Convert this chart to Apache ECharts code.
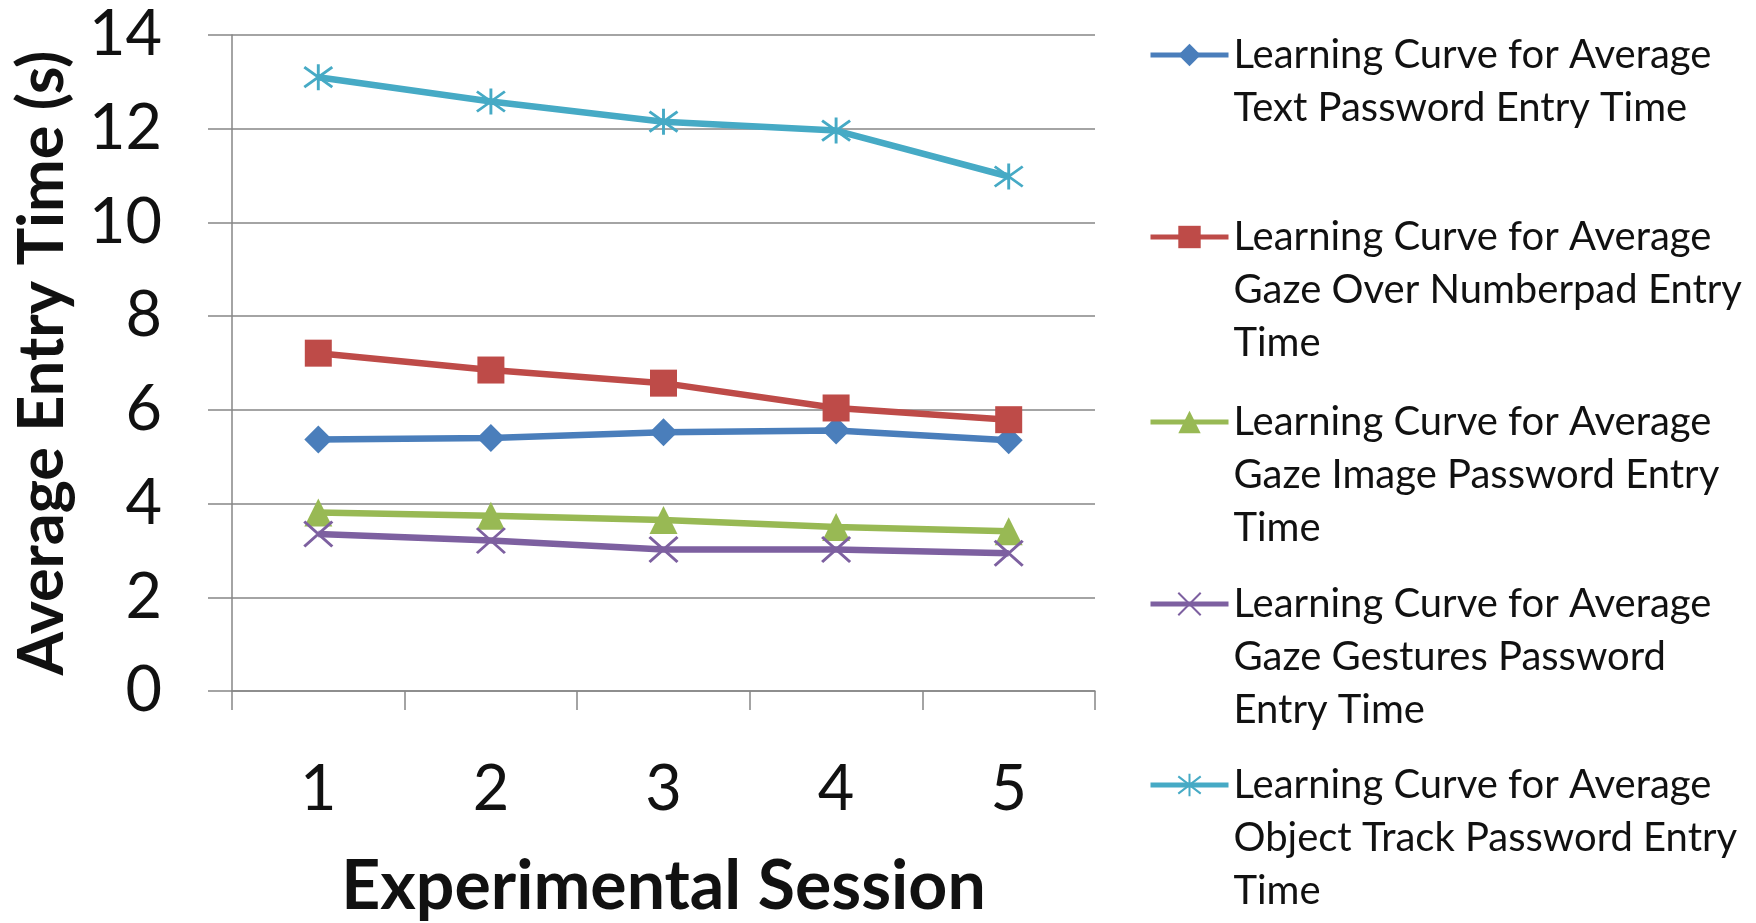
<!DOCTYPE html>
<html><head><meta charset="utf-8">
<script src="https://cdn.jsdelivr.net/npm/echarts@6/dist/echarts.min.js"></script>
<style>html,body{margin:0;padding:0;background:#fff}#c{width:1756px;height:923px}</style>
</head><body><div id="c"></div>
<script>
// ---- data ----
const sessions = ['1', '2', '3', '4', '5'];
const textPassword = [5.37, 5.40, 5.52, 5.56, 5.35];
const gazeNumberpad = [7.21, 6.85, 6.57, 6.04, 5.79];
const gazeImage = [3.81, 3.74, 3.65, 3.50, 3.41];
const gazeGestures = [3.35, 3.21, 3.02, 3.02, 2.94];
const objectTrack = [13.10, 12.58, 12.15, 11.96, 10.98];
const seriesNames = [
  'Learning Curve for Average Text Password Entry Time',
  'Learning Curve for Average Gaze Over Numberpad Entry Time',
  'Learning Curve for Average Gaze Image Password Entry Time',
  'Learning Curve for Average Gaze Gestures Password Entry Time',
  'Learning Curve for Average Object Track Password Entry Time'
];
const legendLines = [
  ['Learning Curve for Average', 'Text Password Entry Time'],
  ['Learning Curve for Average', 'Gaze Over Numberpad Entry', 'Time'],
  ['Learning Curve for Average', 'Gaze Image Password Entry', 'Time'],
  ['Learning Curve for Average', 'Gaze Gestures Password', 'Entry Time'],
  ['Learning Curve for Average', 'Object Track Password Entry', 'Time']
];
const yAxisTitle = 'Average Entry Time (s)';
const xAxisTitle = 'Experimental Session';

// ---- styling ----
const colors = ['#4A7EBB', '#BE4B48', '#98B954', '#7D60A0', '#46AAC5'];
const FONT = 'Lato';
const LH = 53;
const legendFirstLineY = [55, 237, 422, 604, 785];
const xPath = 'path://M0,0L10,10M10,0L0,10';
const starPath = 'path://M0,0L10,10M10,0L0,10M5,-1.5L5,11.5';

function makeLegend(i) {
  const n = legendLines[i].length;
  // leading blank lines keep the legend symbol level with the first text line
  const txt = '\n'.repeat(n - 1) + legendLines[i].join('\n');
  return {
    show: true, orient: 'vertical', left: 1148,
    top: legendFirstLineY[i] - (2 * n - 1) * LH / 2,
    padding: 0, selectedMode: false,
    data: [seriesNames[i]],
    itemWidth: 78, itemHeight: 28,
    lineStyle: { width: 5 },
    formatter: () => txt,
    textStyle: { fontFamily: FONT, fontSize: 40, color: '#111', lineHeight: LH }
  };
}

const seriesData = [textPassword, gazeNumberpad, gazeImage, gazeGestures, objectTrack];
const symbols = ['diamond', 'rect', 'triangle', xPath, starPath];
const symbolSizes = [28, 27, 28, [28, 25], [28, 26]];

const chart = echarts.init(document.getElementById('c'), null, { renderer: 'canvas' });
chart.setOption({
  animation: false,
  backgroundColor: '#fff',
  color: colors,
  grid: { left: 232, right: 661, top: 35, bottom: 232, outerBoundsMode: 'none' },
  legend: seriesNames.map((_, i) => makeLegend(i)),
  xAxis: {
    type: 'category', data: sessions, boundaryGap: true,
    axisLine: { lineStyle: { color: '#868686', width: 1.5 } },
    axisTick: { show: true, length: 19, lineStyle: { color: '#868686', width: 1.5 } },
    axisLabel: { fontFamily: FONT, fontSize: 63, color: '#111', margin: 67 },
    name: xAxisTitle, nameLocation: 'middle', nameGap: 162,
    nameTextStyle: { fontFamily: FONT, fontWeight: 'bold', fontSize: 68, color: '#111' }
  },
  yAxis: {
    type: 'value', min: 0, max: 14, interval: 2,
    axisLine: { show: true, lineStyle: { color: '#868686', width: 1.5 } },
    axisTick: { show: true, length: 24, lineStyle: { color: '#868686', width: 1.5 } },
    splitLine: { show: true, lineStyle: { color: '#868686', width: 1.5 } },
    axisLabel: { fontFamily: FONT, fontSize: 63, color: '#111', margin: 70 },
    name: yAxisTitle, nameLocation: 'middle', nameGap: 158,
    nameTextStyle: { fontFamily: FONT, fontWeight: 'bold', fontSize: 63, color: '#111' }
  },
  series: seriesNames.map((name, i) => ({
    name, type: 'line', data: seriesData[i],
    symbol: symbols[i], symbolSize: symbolSizes[i], showSymbol: true,
    lineStyle: { width: 6.5, color: colors[i] },
    itemStyle: { color: colors[i], borderColor: colors[i], borderWidth: i >= 3 ? 2.8 : 0 },
    emphasis: { disabled: true }
  }))
});
</script>
</body></html>
